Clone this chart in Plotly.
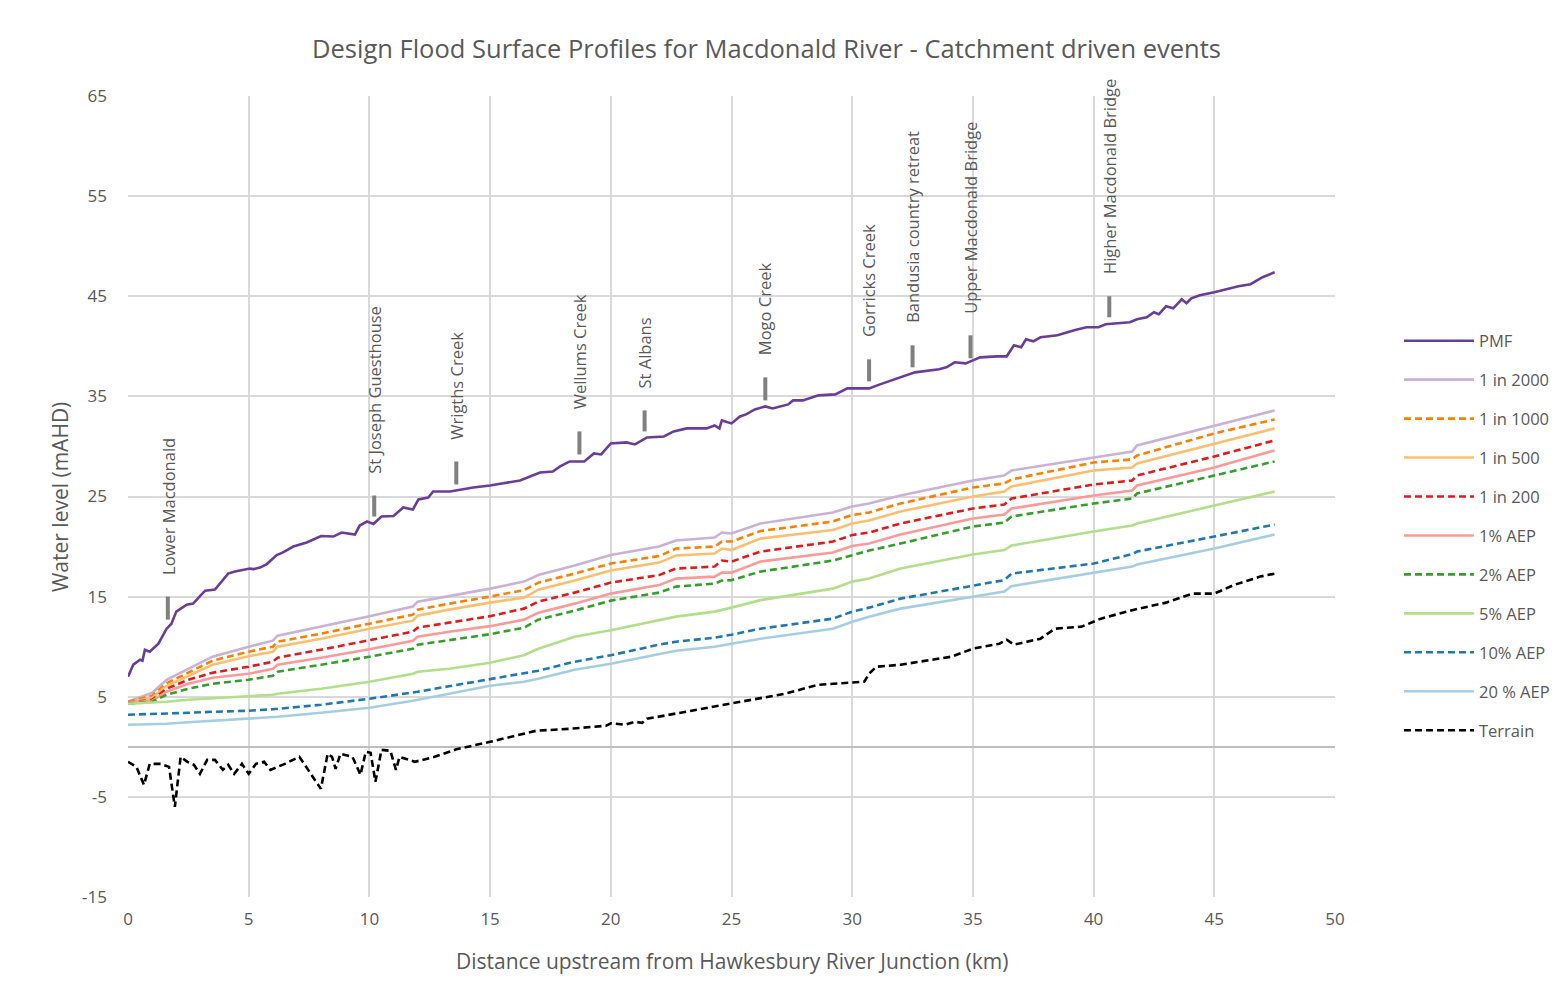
import plotly.graph_objects as go

# ---------------- data ----------------
km = [0, 1.0, 1.6, 2.5, 3.5, 5.0, 6.0, 6.2, 8.0, 10.0, 11.8, 12.0, 13.3, 15.0, 16.4, 17.0, 18.5,
      20.0, 22.0, 22.7, 24.3, 24.6, 25.0, 26.2, 29.2, 30.0, 30.7, 32.0, 35.0, 36.3, 36.6, 40.0,
      41.6, 41.8, 45.0, 47.5]

aep_2000 = [4.5, 5.4, 6.7, 7.8, 9.0, 10.0, 10.6, 11.1, 12.0, 13.05, 14.0, 14.5, 15.05, 15.8, 16.5, 17.15, 18.1,
            19.15, 20.0, 20.6, 20.9, 21.4, 21.3, 22.3, 23.4, 24.0, 24.3, 25.1, 26.6, 27.1, 27.6, 28.9,
            29.5, 30.1, 32.1, 33.6]
aep_1000 = [4.5, 5.1, 6.35, 7.4, 8.6, 9.5, 10.0, 10.5, 11.3, 12.3, 13.2, 13.7, 14.3, 15.0, 15.65, 16.4, 17.3,
            18.3, 19.05, 19.8, 20.0, 20.5, 20.5, 21.55, 22.5, 23.15, 23.4, 24.3, 25.9, 26.3, 26.7, 28.4,
            28.7, 29.1, 31.3, 32.7]
aep_500 = [4.4, 4.9, 6.1, 7.1, 8.2, 9.05, 9.5, 10.0, 10.8, 11.8, 12.6, 13.1, 13.7, 14.4, 14.9, 15.7, 16.6,
           17.6, 18.4, 19.1, 19.3, 19.8, 19.65, 20.8, 21.65, 22.3, 22.6, 23.5, 25.0, 25.5, 26.0, 27.6,
           27.9, 28.3, 30.3, 31.8]
aep_200 = [4.4, 4.7, 5.8, 6.7, 7.4, 8.0, 8.5, 8.9, 9.7, 10.65, 11.5, 11.9, 12.4, 13.05, 13.8, 14.5, 15.4,
           16.4, 17.15, 17.8, 18.0, 18.6, 18.5, 19.5, 20.5, 21.15, 21.4, 22.3, 23.8, 24.2, 24.8, 26.2,
           26.6, 27.1, 29.0, 30.6]
aep_1pc = [4.4, 4.6, 5.5, 6.3, 6.9, 7.3, 7.8, 8.2, 8.9, 9.75, 10.6, 11.0, 11.5, 12.05, 12.7, 13.4, 14.3,
           15.3, 16.15, 16.8, 17.0, 17.4, 17.4, 18.5, 19.4, 20.05, 20.3, 21.2, 22.8, 23.2, 23.8, 25.1,
           25.6, 26.1, 27.9, 29.6]
aep_2pc = [4.3, 4.5, 5.2, 5.8, 6.3, 6.7, 7.1, 7.5, 8.2, 9.0, 9.8, 10.2, 10.65, 11.25, 11.9, 12.7, 13.6,
           14.6, 15.4, 16.0, 16.3, 16.6, 16.65, 17.5, 18.6, 19.15, 19.6, 20.3, 22.0, 22.4, 23.0, 24.3,
           24.8, 25.3, 27.1, 28.5]
aep_5pc = [4.3, 4.4, 4.5, 4.7, 4.85, 5.0, 5.2, 5.3, 5.8, 6.5, 7.3, 7.5, 7.8, 8.4, 9.15, 9.8, 11.0,
           11.65, 12.6, 13.0, 13.5, 13.7, 13.9, 14.65, 15.8, 16.5, 16.8, 17.8, 19.2, 19.65, 20.1, 21.5,
           22.1, 22.3, 24.1, 25.5]
aep_10pc = [3.2, 3.25, 3.3, 3.4, 3.5, 3.6, 3.75, 3.8, 4.2, 4.8, 5.4, 5.5, 6.05, 6.75, 7.3, 7.6, 8.5,
            9.15, 10.2, 10.5, 10.9, 11.0, 11.2, 11.8, 12.8, 13.5, 13.9, 14.8, 16.1, 16.65, 17.3, 18.3,
            19.25, 19.5, 21.0, 22.2]
aep_20pc = [2.2, 2.25, 2.3, 2.45, 2.6, 2.8, 2.95, 3.0, 3.4, 3.9, 4.6, 4.7, 5.3, 6.1, 6.5, 6.8, 7.7,
            8.3, 9.3, 9.6, 10.0, 10.1, 10.3, 10.8, 11.8, 12.5, 13.0, 13.8, 15.0, 15.5, 16.05, 17.4,
            18.0, 18.2, 19.8, 21.2]

pmf_km = [0, 0.22, 0.5, 0.6, 0.7, 0.9, 1.26, 1.6, 1.8, 2.0, 2.43, 2.7, 3.0, 3.2, 3.6, 3.8, 4.15, 4.43,
          5.05, 5.2, 5.47, 5.75, 6.16, 6.4, 6.85, 7.4, 8.0, 8.5, 8.85, 9.4, 9.6, 9.9, 10.17, 10.5, 11.0,
          11.4, 11.8, 12.03, 12.44, 12.64, 13.34, 14.3, 15.0, 16.24, 17.07, 17.6, 17.9, 18.3, 18.9,
          19.3, 19.6, 20.0, 20.65, 21.0, 21.5, 22.2, 22.6, 23.15, 23.97, 24.3, 24.5, 24.6, 25.0,
          25.35, 25.6, 25.97, 26.4, 26.7, 27.35, 27.55, 27.96, 28.6, 29.3, 29.8, 30.7, 31.15, 32.0,
          32.6, 33.6, 33.9, 34.25, 34.7, 35.0, 35.3, 36.0, 36.4, 36.7, 37.0, 37.2, 37.5, 37.8, 38.5,
          39.2, 39.7, 40.2, 40.5, 41.5, 41.8, 42.2, 42.5, 42.7, 43.0, 43.3, 43.65, 43.85, 44.05, 44.4,
          45.0, 46.0, 46.5, 47.0, 47.5]
pmf = [7.0, 8.2, 8.7, 8.6, 9.7, 9.5, 10.3, 11.8, 12.3, 13.5, 14.2, 14.3, 15.1, 15.6, 15.7, 16.3, 17.3, 17.5,
       17.8, 17.75, 17.9, 18.25, 19.15, 19.4, 20.0, 20.4, 21.05, 21.0, 21.4, 21.2, 22.1, 22.5, 22.25, 23.0, 23.05,
       23.9, 23.7, 24.7, 24.9, 25.5, 25.5, 25.9, 26.1, 26.6, 27.4, 27.5, 28.0, 28.5, 28.5,
       29.3, 29.2, 30.3, 30.4, 30.2, 30.9, 31.0, 31.5, 31.8, 31.8, 32.1, 31.8, 32.6, 32.3,
       33.0, 33.2, 33.7, 34.0, 33.8, 34.2, 34.6, 34.6, 35.1, 35.2, 35.8, 35.8, 36.2, 36.9,
       37.4, 37.7, 37.9, 38.4, 38.3, 38.6, 38.9, 39.0, 39.0, 40.1, 39.9, 40.7, 40.5, 40.9, 41.1,
       41.6, 41.9, 41.9, 42.2, 42.4, 42.7, 42.9, 43.4, 43.2, 44.0, 43.8, 44.7, 44.3, 44.8, 45.1,
       45.4, 46.0, 46.2, 46.9, 47.4]

terrain_km = [0, 0.35, 0.66, 0.9, 1.35, 1.7, 1.94, 2.18, 2.46, 2.73, 2.98, 3.28, 3.6, 3.93, 4.15, 4.4,
              4.72, 5.0, 5.3, 5.64, 5.9, 6.5, 7.1, 7.99, 8.27, 8.45, 8.6, 8.8, 9.3, 9.63, 9.85, 10.05,
              10.25, 10.5, 10.87, 11.1, 11.25, 11.88, 12.7, 13.6, 15.0, 16.25, 16.9, 18.3, 19.8, 20.0,
              20.6, 21.0, 21.3, 21.5, 23.1, 25.0, 27.2, 28.6, 30.5, 30.7, 31.0, 31.5, 32.0, 34.1, 35.0,
              36.1, 36.4, 36.7, 37.8, 38.4, 39.5, 40.3, 41.6, 43.0, 44.1, 45.0, 45.8, 46.9, 47.5]
terrain = [-1.5, -2.0, -3.8, -1.7, -1.7, -2.0, -6.0, -1.0, -1.5, -1.8, -2.7, -1.3, -1.3, -2.3, -1.8, -2.7,
           -1.7, -2.7, -1.7, -1.5, -2.3, -1.7, -1.0, -4.2, -0.7, -1.0, -2.2, -0.7, -1.0, -2.8, -0.5, -0.6,
           -3.5, -0.3, -0.4, -2.3, -1.0, -1.5, -1.0, -0.25, 0.5, 1.2, 1.6, 1.8, 2.1, 2.35,
           2.2, 2.5, 2.4, 2.8, 3.5, 4.3, 5.3, 6.2, 6.5, 7.3, 8.0, 8.1, 8.2, 9.0, 9.8,
           10.3, 10.7, 10.2, 10.8, 11.8, 12.0, 12.8, 13.65, 14.4, 15.3, 15.3, 16.15, 17.0, 17.3]

site_names = ["Lower Macdonald", "St Joseph Guesthouse", "Wrigths Creek", "Wellums Creek", "St Albans",
              "Mogo Creek", "Gorricks Creek", "Bandusia country retreat", "Upper Macdonald Bridge",
              "Higher Macdonald Bridge"]
site_km = [1.65, 10.2, 13.6, 18.7, 21.4, 26.4, 30.7, 32.5, 34.9, 40.65]
site_bar_bottom = [12.7, 23.0, 26.2, 29.2, 31.5, 34.6, 36.5, 37.9, 38.8, 42.9]
site_bar_top = [15.0, 25.1, 28.5, 31.5, 33.6, 36.9, 38.7, 40.1, 41.1, 45.0]

x_ticks = [0, 5, 10, 15, 20, 25, 30, 35, 40, 45, 50]
y_ticks = [-15, -5, 5, 15, 25, 35, 45, 55, 65]

# ---------------- figure ----------------
FONT = "Open Sans"
TXT = "#595959"

series = [
    ("PMF", pmf_km, pmf, "#6a3d9a", "solid"),
    ("1 in 2000", km, aep_2000, "#cab2d6", "solid"),
    ("1 in 1000", km, aep_1000, "#ff7f00", "7px,4px"),
    ("1 in 500", km, aep_500, "#fdbf6f", "solid"),
    ("1 in 200", km, aep_200, "#e31a1c", "7px,4px"),
    ("1% AEP", km, aep_1pc, "#fb9a99", "solid"),
    ("2% AEP", km, aep_2pc, "#33a02c", "7px,4px"),
    ("5% AEP", km, aep_5pc, "#b2df8a", "solid"),
    ("10% AEP", km, aep_10pc, "#1f78b4", "7px,4px"),
    ("20 % AEP", km, aep_20pc, "#a6cee3", "solid"),
    ("Terrain", terrain_km, terrain, "#000000", "7px,4px"),
]

fig = go.Figure()
for i, (name, xs, ys, col, dash) in enumerate(series):
    fig.add_trace(go.Scatter(
        x=xs, y=ys, mode="lines", name=name, legendgroup=f"g{i}",
        line=dict(color=col, width=2.6, dash=dash),
    ))

for name, sk, b0, b1 in zip(site_names, site_km, site_bar_bottom, site_bar_top):
    fig.add_shape(type="line", xref="x", yref="y", x0=sk, x1=sk, y0=b0, y1=b1,
                  line=dict(color="#808080", width=4))
    fig.add_annotation(x=sk, y=b1, xref="x", yref="y", text=name, textangle=-90,
                       showarrow=False, xanchor="center", yanchor="bottom", yshift=20,
                       font=dict(family=FONT, size=16.5, color=TXT))

fig.add_annotation(text="Design Flood Surface Profiles for Macdonald River - Catchment driven events",
                   xref="paper", yref="paper", x=0.5294, y=1.0599, showarrow=False,
                   xanchor="center", yanchor="middle",
                   font=dict(family=FONT, size=25.5, color=TXT))
fig.add_annotation(text="Distance upstream from Hawkesbury River Junction (km)",
                   xref="paper", yref="paper", x=0.5004, y=-0.0799, showarrow=False,
                   xanchor="center", yanchor="middle",
                   font=dict(family=FONT, size=21, color=TXT))
fig.add_annotation(text="Water level (mAHD)", textangle=-90,
                   xref="paper", yref="paper", x=-0.0563, y=0.4994, showarrow=False,
                   xanchor="center", yanchor="middle",
                   font=dict(family=FONT, size=21, color=TXT))

fig.update_layout(
    width=1567, height=1004,
    margin=dict(l=128, r=232, t=96, b=107),
    paper_bgcolor="white", plot_bgcolor="white",
    font=dict(family=FONT, color=TXT),
    showlegend=True,
    legend=dict(x=1.053, y=0.716, xanchor="left", yanchor="top",
                font=dict(family=FONT, size=16.5, color=TXT),
                tracegroupgap=14.5, itemwidth=70, bgcolor="rgba(0,0,0,0)"),
    xaxis=dict(range=[0, 50], tickvals=x_ticks, ticktext=[str(v) for v in x_ticks],
               showgrid=True, gridcolor="#d9d9d9", gridwidth=2, zeroline=False,
               showline=False, ticks="", ticklabelstandoff=10,
               tickfont=dict(family=FONT, size=17, color=TXT)),
    yaxis=dict(range=[-15, 65], tickvals=y_ticks, ticktext=[str(v) for v in y_ticks],
               showgrid=True, gridcolor="#d9d9d9", gridwidth=2,
               zeroline=True, zerolinecolor="#bfbfbf", zerolinewidth=2,
               showline=False, ticks="", ticklabelstandoff=20,
               tickfont=dict(family=FONT, size=17, color=TXT)),
)

fig.write_html("out.html")
